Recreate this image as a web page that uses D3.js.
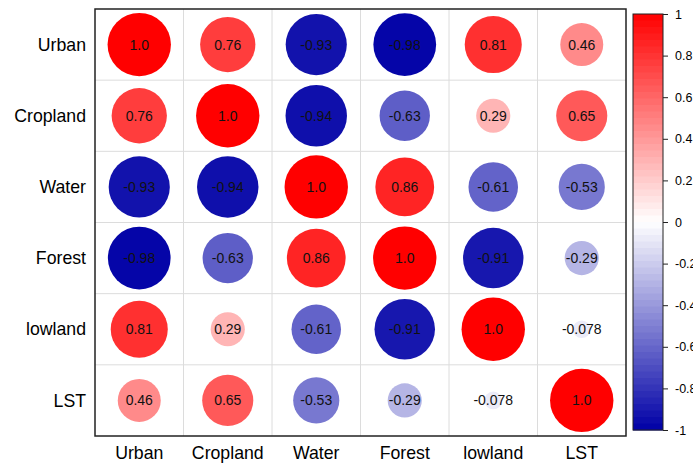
<!DOCTYPE html>
<html>
<head>
<meta charset="utf-8">
<script src="https://cdn.jsdelivr.net/npm/d3@7"></script>
<style>
  html, body { margin: 0; padding: 0; background: #fff; overflow: hidden; }
  svg { display: block; font-family: "Liberation Sans", Arial, sans-serif; }
</style>
</head>
<body>
<svg id="chart" width="693" height="465"></svg>
<script>
// Variables of the correlation matrix
const variables = ["Urban", "Cropland", "Water", "Forest", "lowland", "LST"];

// Correlation coefficients, one row per variable
const rowUrban    = [1.0, 0.76, -0.93, -0.98, 0.81, 0.46];
const rowCropland = [0.76, 1.0, -0.94, -0.63, 0.29, 0.65];
const rowWater    = [-0.93, -0.94, 1.0, 0.86, -0.61, -0.53];
const rowForest   = [-0.98, -0.63, 0.86, 1.0, -0.91, -0.29];
const rowLowland  = [0.81, 0.29, -0.61, -0.91, 1.0, -0.078];
const rowLST      = [0.46, 0.65, -0.53, -0.29, -0.078, 1.0];
const matrix = [rowUrban, rowCropland, rowWater, rowForest, rowLowland, rowLST];

// Colour bar tick values
const colorTicks = [1, 0.8, 0.6, 0.4, 0.2, 0, -0.2, -0.4, -0.6, -0.8, -1];

const svg = d3.select("#chart");

// Plot frame
const plot = { left: 95, top: 9, right: 626, bottom: 436 };

const x = d3.scaleBand().domain(variables).range([plot.left, plot.right]);
const y = d3.scaleBand().domain(variables).range([plot.top, plot.bottom]);

const color = d3.scaleLinear()
  .domain([-1, 0, 1])
  .range(["#0000a6", "#ffffff", "#ff0000"])
  .clamp(true);

const radius = d3.scaleSqrt().domain([0, 1]).range([0, 31.7]);

const locale = d3.formatLocale({ decimal: ".", thousands: ",", grouping: [3], currency: ["", ""], minus: "-" });
const fmt = locale.format(".2r");

// Cells
const cells = [];
matrix.forEach((row, i) => row.forEach((v, j) => cells.push({ r: variables[i], c: variables[j], v })));

// Grid lines
const grid = svg.append("g").attr("stroke", "#dcdcdc").attr("stroke-width", 1);
variables.slice(1).forEach(d => {
  grid.append("line").attr("x1", x(d)).attr("x2", x(d)).attr("y1", plot.top).attr("y2", plot.bottom);
  grid.append("line").attr("y1", y(d)).attr("y2", y(d)).attr("x1", plot.left).attr("x2", plot.right);
});

// Circles
svg.append("g").selectAll("circle").data(cells).join("circle")
  .attr("cx", d => x(d.c) + x.bandwidth() / 2)
  .attr("cy", d => y(d.r) + y.bandwidth() / 2)
  .attr("r", d => radius(Math.abs(d.v)))
  .attr("fill", d => color(d.v));

// Value labels
svg.append("g").selectAll("text").data(cells).join("text")
  .attr("x", d => x(d.c) + x.bandwidth() / 2)
  .attr("y", d => y(d.r) + y.bandwidth() / 2)
  .attr("dy", "0.36em")
  .attr("text-anchor", "middle")
  .attr("font-size", 14)
  .attr("fill", "#111")
  .text(d => fmt(d.v));

// Frame
svg.append("rect")
  .attr("x", plot.left).attr("y", plot.top)
  .attr("width", plot.right - plot.left).attr("height", plot.bottom - plot.top)
  .attr("fill", "none").attr("stroke", "#222").attr("stroke-width", 1.5);

// Row labels
svg.append("g").selectAll("text").data(variables).join("text")
  .attr("x", 86)
  .attr("y", d => y(d) + y.bandwidth() / 2)
  .attr("dy", "0.35em")
  .attr("text-anchor", "end")
  .attr("font-size", 17.7)
  .attr("fill", "#000")
  .text(d => d);

// Column labels
svg.append("g").selectAll("text").data(variables).join("text")
  .attr("x", d => x(d) + x.bandwidth() / 2)
  .attr("y", 459)
  .attr("text-anchor", "middle")
  .attr("font-size", 17.7)
  .attr("fill", "#000")
  .text(d => d);

// Colour bar
const bar = { left: 633, right: 663, top: 14, bottom: 430 };
const cbY = d3.scaleLinear().domain([1, -1]).range([bar.top, bar.bottom]);
const steps = 64;
const stepVals = d3.range(steps).map(k => 1 - (k + 0.5) * 2 / steps);
svg.append("g").selectAll("rect").data(stepVals).join("rect")
  .attr("x", bar.left)
  .attr("width", bar.right - bar.left)
  .attr("y", d => cbY(d + 1 / steps))
  .attr("height", (bar.bottom - bar.top) / steps + 0.5)
  .attr("fill", d => color(d));
svg.append("rect")
  .attr("x", bar.left).attr("y", bar.top)
  .attr("width", bar.right - bar.left).attr("height", bar.bottom - bar.top)
  .attr("fill", "none").attr("stroke", "#222").attr("stroke-width", 1);

const cbAxis = d3.axisRight(cbY).tickValues(colorTicks).tickSize(5).tickPadding(7)
  .tickFormat(d => locale.format("")(d));
const cbG = svg.append("g").attr("transform", `translate(${bar.right},0)`).call(cbAxis);
cbG.select(".domain").remove();
cbG.selectAll("text").attr("font-size", 12.5).attr("font-family", "Liberation Sans, Arial, sans-serif").attr("fill", "#000");
cbG.selectAll("line").attr("stroke", "#222");
</script>
</body>
</html>
